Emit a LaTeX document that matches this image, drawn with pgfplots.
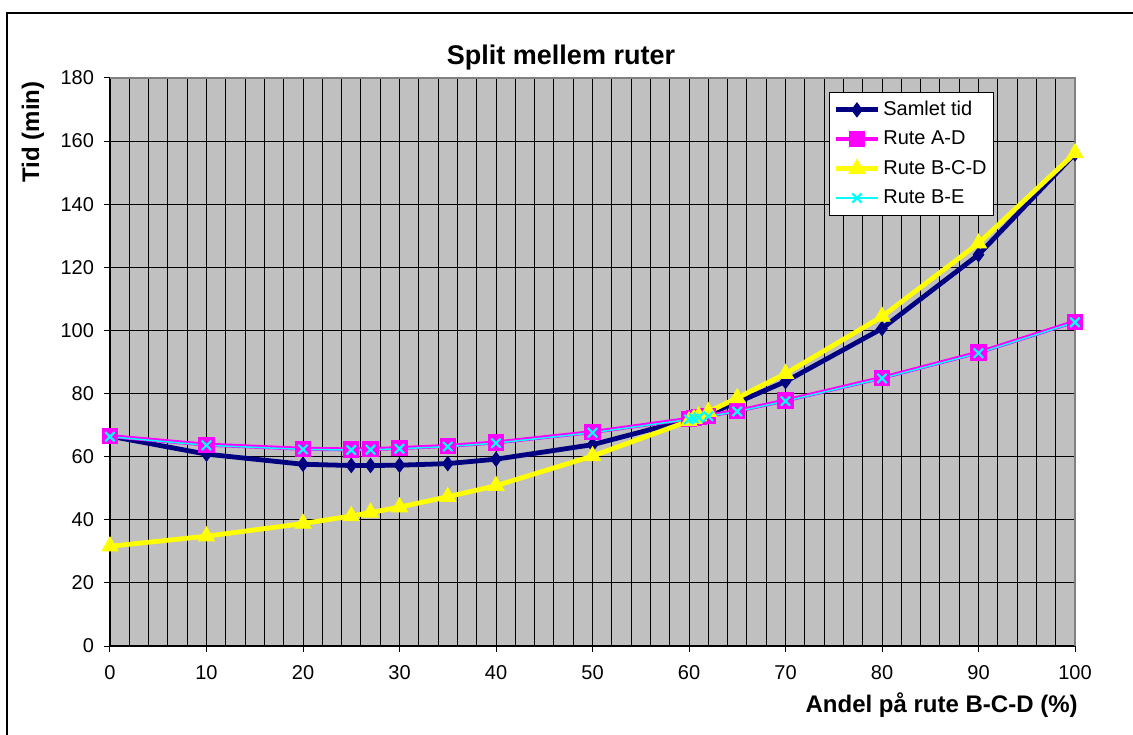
\documentclass[border=0pt]{standalone}
\usepackage{fontspec}
\setmainfont{Liberation Sans}
\usepackage{pgfplots}
\pgfplotsset{compat=1.18}

\definecolor{plotbg}{HTML}{C0C0C0}
\definecolor{xlnavy}{HTML}{000080}
\definecolor{xlmag}{HTML}{FF00FF}
\definecolor{xlyel}{HTML}{FFFF00}
\definecolor{xlcyan}{HTML}{00FFFF}
\definecolor{xlborder}{HTML}{808080}

\begin{document}
\begin{tikzpicture}
% 1 px of the reference = 0.5pt, origin at the lower-left corner of the plot area
\useasboundingbox (-55pt,-44pt) rectangle (511.5pt,323pt);
\draw[line width=1pt] (-51.5pt,-60pt) -- (-51.5pt,316.5pt) -- (530pt,316.5pt);

\begin{axis}[
    scale only axis,
    width=482.5pt, height=284pt,
    xmin=0, xmax=100, ymin=0, ymax=180,
    xtick={0,10,...,100},
    ytick={0,20,...,180},
    minor x tick num=4,
    xmajorgrids, xminorgrids, ymajorgrids,
    grid style={black, line width=0.5pt},
    minor grid style={black, line width=0.5pt},
    axis background/.style={fill=plotbg},
    axis line style={black, line width=0.75pt},
    tick align=outside,
    major tick length=3pt,
    minor tick length=0pt,
    tick style={black, line width=0.5pt},
    xtick pos=bottom, ytick pos=left,
    /pgf/number format/assume math mode=true,
    ticklabel style={font=\fontsize{10}{12}\selectfont},
    yticklabel style={xshift=-1.5pt},
    xticklabel style={yshift=-3pt},
    clip=false,
    legend style={
        at={(0.745,0.975)}, anchor=north west,
        draw=black, line width=0.6pt, fill=white,
        font=\fontsize{10}{12}\selectfont,
        inner xsep=2pt, inner ysep=1.2pt,
        nodes={inner sep=1.5pt, minimum height=14.7pt},
        row sep=0pt,
    },
    legend cell align=left,
    legend image code/.code={
        \draw[mark repeat=2,mark phase=2,#1]
        plot coordinates {(0pt,0pt) (10.5pt,0pt) (21pt,0pt)};
    },
]
% Samlet tid
\addplot[color=xlnavy, line width=2.4pt, mark=diamond*,
    mark options={solid, fill=xlnavy, line width=0.5pt}, mark size=3.5pt]
    coordinates {
    (0,66.5)(10,60.8)(20,57.6)(25,57.2)(27,57.2)(30,57.3)(35,57.8)(40,59.2)
    (50,63.8)(60,71.8)(60.5,72.2)(61,72.6)(62,73.5)(65,77.2)(70,83.8)
    (80,100.6)(90,124)(100,156)
    };
% Rute A-D
\addplot[color=xlmag, line width=2pt, mark=square*,
    mark options={solid, fill=xlmag, line width=0.5pt}, mark size=3.8pt]
    coordinates {
    (0,66.5)(10,63.8)(20,62.5)(25,62.3)(27,62.4)(30,62.7)(35,63.4)(40,64.5)
    (50,67.8)(60,72.0)(60.5,72.3)(61,72.6)(62,73.0)(65,74.5)(70,77.8)
    (80,85.0)(90,93.0)(100,102.8)
    };
% Rute B-C-D
\addplot[color=xlyel, line width=2.4pt, mark=triangle*,
    mark options={solid, fill=xlyel, line width=0.5pt}, mark size=4.6pt]
    coordinates {
    (0,31.6)(10,34.8)(20,38.8)(25,41.2)(27,42.3)(30,44.0)(35,47.3)(40,50.8)
    (50,60.2)(60,71.3)(60.5,72.0)(61,72.8)(62,74.2)(65,78.6)(70,86.3)
    (80,104.4)(90,127.6)(100,156.2)
    };
% Rute B-E
\addplot[color=xlcyan, line width=0.75pt, mark=x,
    mark options={solid, line width=1.1pt}, mark size=3.3pt]
    coordinates {
    (0,66.3)(10,63.6)(20,62.3)(25,62.1)(27,62.2)(30,62.5)(35,63.2)(40,64.3)
    (50,67.6)(60,71.8)(60.5,72.1)(61,72.4)(62,72.8)(65,74.3)(70,77.6)
    (80,84.8)(90,92.8)(100,102.6)
    };
\legend{Samlet tid, Rute A-D, Rute B-C-D, Rute B-E}
% gray top and right border of the plot area
\draw[xlborder, line width=0.75pt] (rel axis cs:0,1) -- (rel axis cs:1,1) -- (rel axis cs:1,0);
\end{axis}

\node[font=\bfseries\fontsize{13.5}{16}\selectfont] at (225.5pt,294pt) {Split mellem ruter};
\node[font=\bfseries\fontsize{12}{14}\selectfont, rotate=90] at (-38.5pt,257pt) {Tid (min)};
\node[font=\bfseries\fontsize{12}{14}\selectfont, anchor=east, inner sep=0pt] at (484pt,-29.5pt) {Andel på rute B-C-D (\%)};
\end{tikzpicture}
\end{document}
